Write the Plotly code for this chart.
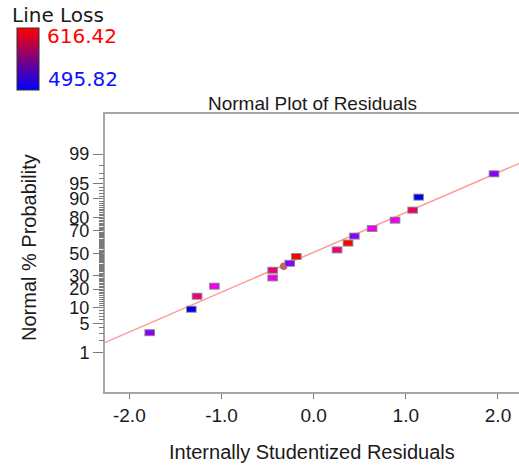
import plotly.graph_objects as go
from statistics import NormalDist

# ---------------- data ----------------
residuals = [-1.779, -1.327, -1.265, -1.077, -0.445, -0.445, -0.260, -0.188,
             0.254, 0.373, 0.442, 0.634, 0.883, 1.074, 1.139, 1.957]
normal_pct = [3.1, 9.4, 15.6, 21.9, 28.1, 34.4, 40.6, 46.9,
              53.1, 59.4, 65.6, 71.9, 78.1, 84.4, 90.6, 96.9]
point_colors = ["#8800ff", "#0000e8", "#ee0078", "#ee00ee", "#ee00ee", "#ee0078",
                "#8800ff", "#ff0000", "#ee0078", "#ff0000", "#8800ff", "#ee00ee",
                "#ee00ee", "#ee0060", "#0000e8", "#8800ff"]

highlight_x = [-0.325]
highlight_pct = [38.0]

fit_line_x = [-2.3, 2.3]
fit_line_pct = [1.65, 98.52]

prob_major = [1, 5, 10, 20, 30, 50, 70, 80, 90, 95, 99]
prob_minor = [p for p in range(1, 100) if p not in prob_major]
x_ticks = [-2, -1, 0, 1, 2]
x_tick_text = ["-2.0", "-1.0", "0.0", "1.0", "2.0"]

line_loss_range = [495.82, 616.42]

# ---------------- helpers ----------------
nd = NormalDist()


def zq(p):
    return nd.inv_cdf(p / 100.0)


FONT = "Liberation Sans, Arial, sans-serif"
LEG_FONT = "DejaVu Sans, Liberation Sans, sans-serif"
W, H = 519, 469
L, R, T, B = 105, 0, 114, 77
PW, PH = W - L - R, H - T - B
Y_RANGE = [-3.26, 3.27]


def px(x):
    return (x - L) / PW


def py(y):
    return (H - B - y) / PH


fig = go.Figure()

# reference line
fig.add_trace(go.Scatter(
    x=fit_line_x, y=[zq(p) for p in fit_line_pct], mode="lines",
    line=dict(color="#ff9a9a", width=1.5), hoverinfo="skip", showlegend=False))

# highlighted (ellipse) marker
fig.add_trace(go.Scatter(
    x=highlight_x, y=[zq(p) for p in highlight_pct], mode="markers",
    marker=dict(symbol="circle", size=7, color="#c06464",
                line=dict(color="#a05050", width=0.5)),
    hoverinfo="skip", showlegend=False))

zs = [zq(p) for p in normal_pct]
# rectangle borders
fig.add_trace(go.Scatter(
    x=residuals, y=zs, mode="markers",
    marker=dict(symbol="line-ew", size=7.6, color="#8a8a8a",
                line=dict(color="#8a8a8a", width=7)),
    hoverinfo="skip", showlegend=False))
# rectangle fills
fig.add_trace(go.Scatter(
    x=residuals, y=zs, mode="markers",
    marker=dict(symbol="line-ew", size=6.2, color=point_colors,
                line=dict(color=point_colors, width=5)),
    hovertemplate="%{x:.3f}<extra></extra>", showlegend=False))

# invisible trace on the minor-tick overlay axis
fig.add_trace(go.Scatter(x=[None], y=[None], yaxis="y2", mode="markers",
                         hoverinfo="skip", showlegend=False))

# colour-scale legend (colorbar of an empty trace)
fig.add_trace(go.Scatter(
    x=[None, None], y=[None, None], mode="markers",
    marker=dict(color=line_loss_range, cmin=line_loss_range[0], cmax=line_loss_range[1],
                colorscale=[[0, "#0000ff"], [1, "#ff0000"]], showscale=True,
                colorbar=dict(thickness=22, thicknessmode="pixels",
                              len=62, lenmode="pixels",
                              x=px(17.3), xanchor="left",
                              y=py(27.7), yanchor="top",
                              xpad=0, ypad=0,
                              outlinewidth=1, outlinecolor="#333333",
                              showticklabels=False, ticks="")),
    hoverinfo="skip", showlegend=False))

axis_common = dict(showline=True, linecolor="#a6a6a6", linewidth=2,
                   showgrid=False, zeroline=False, ticks="outside",
                   tickcolor="#7a7a7a", tickwidth=1)

fig.update_layout(
    width=W, height=H,
    margin=dict(l=L, r=R, t=T, b=B, pad=0),
    paper_bgcolor="white", plot_bgcolor="white",
    font=dict(family=FONT, color="#1a1a1a"),
    xaxis=dict(range=[-2.264, 2.228], tickmode="array", tickvals=x_ticks,
               ticktext=x_tick_text, ticklen=5, mirror=True,
               tickfont=dict(size=19, family=FONT, color="#1a1a1a"),
               **axis_common),
    yaxis=dict(range=Y_RANGE, tickmode="array",
               tickvals=[zq(p) for p in prob_major],
               ticktext=[str(p) for p in prob_major], ticklen=10,
               tickfont=dict(size=18, family=FONT, color="#1a1a1a"),
               **axis_common),
    yaxis2=dict(range=Y_RANGE, overlaying="y", side="left", anchor="x",
                tickmode="array", tickvals=[zq(p) for p in prob_minor],
                ticks="outside", ticklen=5, tickcolor="#7a7a7a", tickwidth=1,
                showticklabels=False, showline=False, showgrid=False, zeroline=False),
    annotations=[
        dict(text="Normal Plot of Residuals", x=0.5, y=py(103), xref="paper", yref="paper",
             xanchor="center", yanchor="middle", showarrow=False,
             font=dict(size=19, family=FONT, color="#1a1a1a")),
        dict(text="Internally Studentized Residuals", x=px(312.3), y=py(452),
             xref="paper", yref="paper", xanchor="center", yanchor="middle",
             showarrow=False, font=dict(size=20, family=FONT, color="#1a1a1a")),
        dict(text="Normal % Probability", x=px(29), y=py(248), xref="paper", yref="paper",
             xanchor="center", yanchor="middle", textangle=-90, showarrow=False,
             font=dict(size=20, family=FONT, color="#1a1a1a")),
        dict(text="Line Loss", x=px(10), y=py(14.5), xref="paper", yref="paper",
             xanchor="left", yanchor="middle", showarrow=False,
             font=dict(size=20, family=LEG_FONT, color="#1a1a1a")),
        dict(text=f"{line_loss_range[1]:.2f}", x=px(45), y=py(36), xref="paper", yref="paper",
             xanchor="left", yanchor="middle", showarrow=False,
             font=dict(size=20, family=LEG_FONT, color="#ff0000")),
        dict(text=f"{line_loss_range[0]:.2f}", x=px(46), y=py(79), xref="paper", yref="paper",
             xanchor="left", yanchor="middle", showarrow=False,
             font=dict(size=20, family=LEG_FONT, color="#1010ff")),
    ],
)

fig.write_html("out.html")
